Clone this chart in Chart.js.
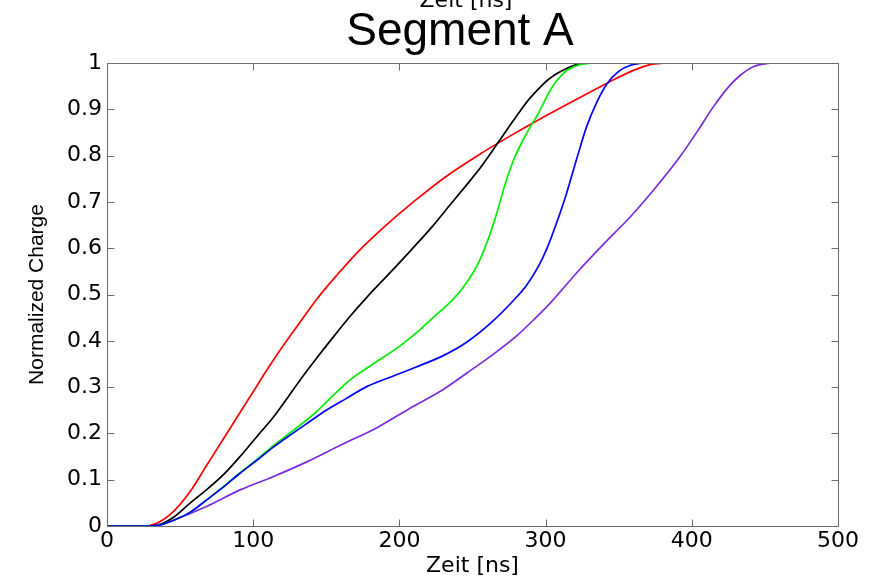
<!DOCTYPE html>
<html>
<head>
<meta charset="utf-8">
<title>Segment A</title>
<script src="https://cdn.jsdelivr.net/npm/chart.js@4.4.1/dist/chart.umd.min.js"></script>
<style>
  html, body { margin: 0; padding: 0; background: #fff; }
  canvas { display: block; }
</style>
</head>
<body>
<canvas id="chart" width="883" height="579"></canvas>
<script>
// values: time in ns, charge normalized 0..1
const redT = [0, 25, 34, 45, 57, 68, 80, 91, 100, 110, 120, 132, 144, 157, 171, 190, 210, 232, 255, 275, 295, 319, 343, 360, 372, 382];
const redQ = [0, 0, 0.006, 0.03, 0.075, 0.13, 0.19, 0.245, 0.29, 0.34, 0.387, 0.44, 0.492, 0.541, 0.59, 0.647, 0.701, 0.755, 0.803, 0.841, 0.877, 0.918, 0.958, 0.984, 0.997, 1];

const blackT = [0, 30, 37, 46, 57, 68, 80, 91, 103, 114, 123, 132, 144, 155, 166, 178, 193, 208, 222, 235, 245, 255, 262, 269, 276, 282.5, 289, 296, 303, 310, 317, 324, 330];
const blackQ = [0, 0, 0.004, 0.02, 0.05, 0.078, 0.112, 0.15, 0.195, 0.236, 0.275, 0.315, 0.365, 0.409, 0.452, 0.495, 0.545, 0.596, 0.645, 0.695, 0.733, 0.772, 0.803, 0.835, 0.867, 0.896, 0.923, 0.947, 0.967, 0.981, 0.992, 0.999, 1];

const blueT = [0, 30, 37, 46, 57, 68, 80, 91, 103, 114, 126, 137, 150, 163, 177.6, 195, 212, 230, 246, 262, 278, 287, 295, 301, 307, 314, 321, 328, 335, 342, 350, 358, 366];
const blueQ = [0, 0, 0.003, 0.013, 0.03, 0.056, 0.085, 0.114, 0.143, 0.171, 0.198, 0.222, 0.25, 0.274, 0.301, 0.323, 0.344, 0.368, 0.397, 0.437, 0.487, 0.52, 0.56, 0.6, 0.65, 0.715, 0.79, 0.862, 0.915, 0.955, 0.982, 0.995, 1];

const greenT = [0, 30, 37, 46, 57, 68, 80, 91, 103, 114, 126, 137, 145, 155, 166, 183, 200, 212, 223, 233, 241, 248, 254, 259, 263, 267, 272, 278, 284, 289.5, 294, 303, 309, 315, 323, 333];
const greenQ = [0, 0, 0.003, 0.013, 0.03, 0.056, 0.086, 0.115, 0.145, 0.174, 0.203, 0.23, 0.252, 0.283, 0.315, 0.352, 0.388, 0.418, 0.45, 0.478, 0.505, 0.535, 0.568, 0.605, 0.64, 0.68, 0.735, 0.79, 0.83, 0.862, 0.885, 0.94, 0.967, 0.985, 0.996, 1];

const purpleT = [0, 30, 37, 46, 68, 91, 114, 137, 160, 185, 207, 230, 246, 263, 280, 292, 303, 323, 340, 358, 375, 392, 405, 414, 425, 433, 442, 454];
const purpleQ = [0, 0, 0.003, 0.013, 0.042, 0.078, 0.107, 0.139, 0.175, 0.213, 0.254, 0.295, 0.33, 0.368, 0.41, 0.446, 0.481, 0.553, 0.61, 0.668, 0.73, 0.798, 0.858, 0.902, 0.948, 0.973, 0.992, 1];

const xTicks = [0, 100, 200, 300, 400, 500];
const yTicks = [0, 0.1, 0.2, 0.3, 0.4, 0.5, 0.6, 0.7, 0.8, 0.9, 1];

const titleText = 'Segment A';
const xTitle = 'Zeit [ns]';
const yTitle = 'Normalized Charge';

function pts(t, q) {
  return t.map((v, i) => ({ x: v, y: q[i] }));
}

function series(label, t, q, color) {
  return {
    label: label,
    data: pts(t, q),
    borderColor: color,
    backgroundColor: color,
    borderWidth: 1.7,
    pointRadius: 0,
    fill: false,
    cubicInterpolationMode: 'monotone'
  };
}

const tickFont = { family: 'DejaVu Sans', size: 22 };

// box round the plot, ticks pointing inwards, title and the stray top label
const framePlugin = {
  id: 'frame',
  afterDraw(chart) {
    const { ctx, chartArea: a, scales } = chart;
    const x = scales.x, y = scales.y;
    const L = Math.round(a.left) + 0.5, R = Math.round(a.right) + 0.5;
    const T = Math.round(a.top) + 0.5, B = Math.round(a.bottom) + 0.5;
    ctx.save();
    ctx.strokeStyle = '#6a6a6a';
    ctx.lineWidth = 1;
    ctx.beginPath();
    ctx.rect(L, T, R - L, B - T);
    xTicks.forEach(v => {
      const px = Math.round(x.getPixelForValue(v)) + 0.5;
      ctx.moveTo(px, B); ctx.lineTo(px, B - 7);
      ctx.moveTo(px, T); ctx.lineTo(px, T + 7);
    });
    yTicks.forEach(v => {
      const py = Math.round(y.getPixelForValue(v)) + 0.5;
      ctx.moveTo(L, py); ctx.lineTo(L + 7, py);
      ctx.moveTo(R, py); ctx.lineTo(R - 7, py);
    });
    ctx.stroke();

    ctx.fillStyle = '#000';
    ctx.textAlign = 'center';
    ctx.textBaseline = 'alphabetic';
    ctx.font = '46px "Liberation Sans", Arial, sans-serif';
    ctx.fillText(titleText, 460, 45);
    ctx.font = '22px "DejaVu Sans", sans-serif';
    ctx.fillText(xTitle, 466, 7);
    ctx.restore();
  }
};

new Chart(document.getElementById('chart'), {
  type: 'line',
  data: {
    datasets: [
      series('blue', blueT, blueQ, '#0000ff'),
      series('green', greenT, greenQ, '#00ee00'),
      series('black', blackT, blackQ, '#000000'),
      series('red', redT, redQ, '#ff0000'),
      series('purple', purpleT, purpleQ, '#7b2be0')
    ]
  },
  options: {
    responsive: false,
    animation: false,
    devicePixelRatio: 1,
    layout: { padding: { top: 63, right: 45, bottom: 0, left: 0 } },
    plugins: {
      legend: { display: false },
      title: { display: false },
      tooltip: { enabled: false }
    },
    scales: {
      x: {
        type: 'linear',
        min: 0,
        max: 500,
        afterFit(scale) { scale.height = 53; },
        afterBuildTicks(scale) { scale.ticks = xTicks.map(v => ({ value: v })); },
        grid: { display: false, drawTicks: false },
        border: { display: false },
        ticks: { color: '#000', font: tickFont, padding: 2, maxRotation: 0 },
        title: {
          display: true,
          text: xTitle,
          color: '#000',
          font: { family: 'DejaVu Sans', size: 22 },
          padding: { top: 0, bottom: 0 }
        }
      },
      y: {
        min: 0,
        max: 1,
        afterFit(scale) { scale.width = 107; },
        afterBuildTicks(scale) { scale.ticks = yTicks.map(v => ({ value: v })); },
        grid: { display: false, drawTicks: false },
        border: { display: false },
        ticks: {
          color: '#000',
          font: tickFont,
          padding: 5,
          callback: v => String(Math.round(v * 10) / 10)
        },
        title: {
          display: true,
          text: yTitle,
          color: '#000',
          font: { family: 'Liberation Sans', size: 21 },
          padding: { top: 25, bottom: 0 }
        }
      }
    }
  },
  plugins: [framePlugin]
});
</script>
</body>
</html>
